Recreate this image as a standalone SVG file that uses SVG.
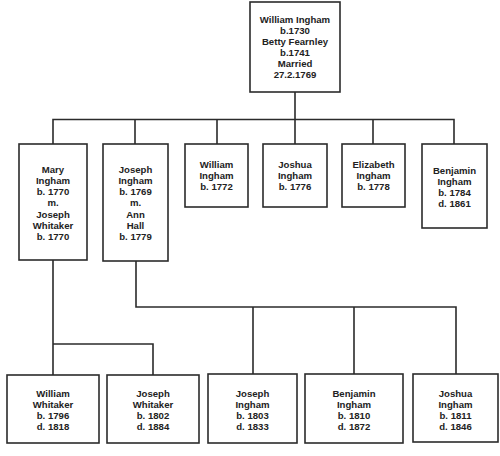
<svg xmlns="http://www.w3.org/2000/svg" width="500" height="456" viewBox="0 0 500 456">
<style>
.box{fill:#fff;stroke:#2b2b2b;stroke-width:1.6}
.ln{fill:none;stroke:#2b2b2b;stroke-width:1.6}
text{font-family:"Liberation Sans",Arial,sans-serif;font-weight:bold;font-size:9.6px;fill:#222;text-anchor:middle}
</style>
<rect width="500" height="456" fill="#fff"/>
<g id="connectors">
<path class="ln" d="M295,92 V119.5 M53,144 V119.5 H454 V144 M135,144 V119.5 M217,144 V119.5 M295,144 V119.5 M373,144 V119.5"/>
<path class="ln" d="M53,260 V344 H153 V375 M53,344 V375"/>
<path class="ln" d="M136,261 V307 H456 V374 M253,307 V374 M354,307 V374"/>
</g>
<g id="n-william-betty"><rect class="box" x="250" y="2" width="90" height="90"/>
<text x="295"><tspan x="295" y="22.5">William Ingham</tspan><tspan x="295" y="33.6">b.1730</tspan><tspan x="295" y="44.7">Betty Fearnley</tspan><tspan x="295" y="55.8">b.1741</tspan><tspan x="295" y="66.9">Married</tspan><tspan x="295" y="78">27.2.1769</tspan></text></g>
<g id="n-mary"><rect class="box" x="19" y="144" width="68" height="116"/>
<text><tspan x="53" y="172.7">Mary</tspan><tspan x="53" y="183.9">Ingham</tspan><tspan x="53" y="195.1">b. 1770</tspan><tspan x="53" y="206.3">m.</tspan><tspan x="53" y="217.5">Joseph</tspan><tspan x="53" y="228.7">Whitaker</tspan><tspan x="53" y="239.9">b. 1770</tspan></text></g>
<g id="n-joseph"><rect class="box" x="103" y="144" width="65" height="117"/>
<text><tspan x="135.5" y="172.7">Joseph</tspan><tspan x="135.5" y="183.9">Ingham</tspan><tspan x="135.5" y="195.1">b. 1769</tspan><tspan x="135.5" y="206.3">m.</tspan><tspan x="135.5" y="217.5">Ann</tspan><tspan x="135.5" y="228.7">Hall</tspan><tspan x="135.5" y="239.9">b. 1779</tspan></text></g>
<g id="n-william"><rect class="box" x="185" y="144" width="63" height="63"/>
<text><tspan x="216.5" y="168">William</tspan><tspan x="216.5" y="179.2">Ingham</tspan><tspan x="216.5" y="190.4">b. 1772</tspan></text></g>
<g id="n-joshua"><rect class="box" x="263" y="144" width="64" height="63"/>
<text><tspan x="295" y="168">Joshua</tspan><tspan x="295" y="179.2">Ingham</tspan><tspan x="295" y="190.4">b. 1776</tspan></text></g>
<g id="n-elizabeth"><rect class="box" x="342" y="144" width="63" height="63"/>
<text><tspan x="373.5" y="168">Elizabeth</tspan><tspan x="373.5" y="179.2">Ingham</tspan><tspan x="373.5" y="190.4">b. 1778</tspan></text></g>
<g id="n-benjamin"><rect class="box" x="422" y="144" width="65" height="84"/>
<text><tspan x="454.5" y="173.5">Benjamin</tspan><tspan x="454.5" y="184.5">Ingham</tspan><tspan x="454.5" y="195.5">b. 1784</tspan><tspan x="454.5" y="206.5">d. 1861</tspan></text></g>
<g id="n-william-whitaker"><rect class="box" x="7" y="375" width="92" height="68"/>
<text><tspan x="53" y="396.5">William</tspan><tspan x="53" y="407.7">Whitaker</tspan><tspan x="53" y="418.9">b. 1796</tspan><tspan x="53" y="430">d. 1818</tspan></text></g>
<g id="n-joseph-whitaker"><rect class="box" x="107" y="375" width="92" height="68"/>
<text><tspan x="153" y="396.5">Joseph</tspan><tspan x="153" y="407.7">Whitaker</tspan><tspan x="153" y="418.9">b. 1802</tspan><tspan x="153" y="430">d. 1884</tspan></text></g>
<g id="n-joseph-ingham"><rect class="box" x="208" y="374" width="89" height="69"/>
<text><tspan x="252.5" y="396.5">Joseph</tspan><tspan x="252.5" y="407.7">Ingham</tspan><tspan x="252.5" y="418.9">b. 1803</tspan><tspan x="252.5" y="430">d. 1833</tspan></text></g>
<g id="n-benjamin-ingham"><rect class="box" x="305" y="374" width="98" height="69"/>
<text><tspan x="354" y="396.5">Benjamin</tspan><tspan x="354" y="407.7">Ingham</tspan><tspan x="354" y="418.9">b. 1810</tspan><tspan x="354" y="430">d. 1872</tspan></text></g>
<g id="n-joshua-ingham"><rect class="box" x="413" y="374" width="85" height="68"/>
<text><tspan x="455.5" y="396.5">Joshua</tspan><tspan x="455.5" y="407.7">Ingham</tspan><tspan x="455.5" y="418.9">b. 1811</tspan><tspan x="455.5" y="430">d. 1846</tspan></text></g>
</svg>
